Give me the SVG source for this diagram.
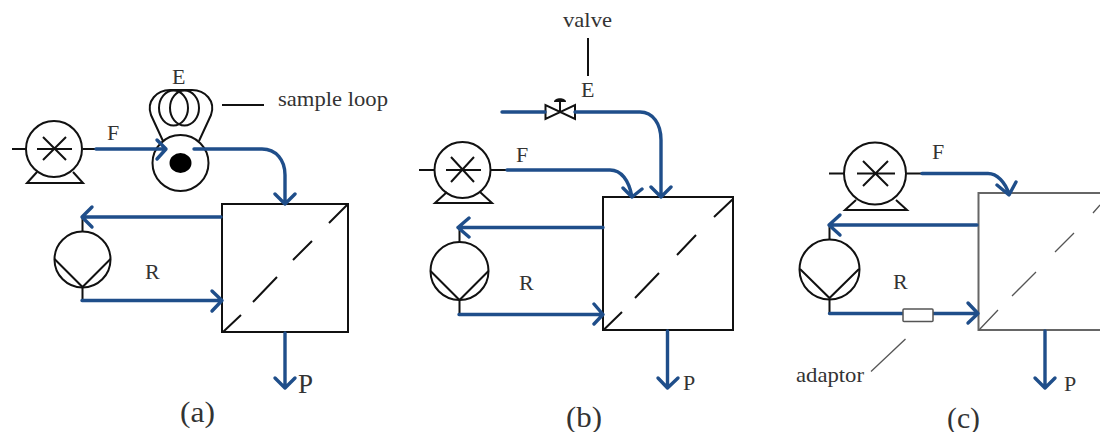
<svg xmlns="http://www.w3.org/2000/svg" width="1100" height="432" viewBox="0 0 1100 432">
<style>
text{font-family:"Liberation Serif","Times New Roman",serif;font-size:22px;fill:#333}
.k{fill:none;stroke:#111;stroke-width:2}
.g{fill:none;stroke:#666;stroke-width:2}
.t{fill:none;stroke:#555;stroke-width:1.3}
.b{fill:none;stroke:#1f4e8a;stroke-width:3.4;stroke-linecap:round;stroke-linejoin:round}
.w{fill:#fff;stroke:#111;stroke-width:2}
.cap{font-size:29px}
</style>
<rect width="1100" height="432" fill="#fff"/>

<g id="pump-feed-a">
<circle class="k" cx="54" cy="149" r="28"/>
<path class="k" d="M12 149H26M37 149H72M43 137L66 160M43 160L66 137M83 149H96M37 172L27 183H83L73 172"/>
</g>
<g id="sample-valve-a">
<circle class="k" cx="180.500" cy="163" r="28"/>
<ellipse cx="180.500" cy="163" rx="11" ry="10" fill="#000"/>
<path class="k" d="M163 141L151 115C146 101 157 90 170 90H192C205 90 216 101 211 115L199 141"/>
<ellipse class="k" cx="173.500" cy="108" rx="14.500" ry="17.500"/>
<ellipse class="k" cx="184.500" cy="108" rx="14.500" ry="17.500"/>
<path class="k" d="M222 105H264"/>
</g>
<g id="module-a">
<rect class="k" x="222" y="204" width="126" height="128"/>
<path class="k" d="M223 332L241 315M253 302L277 277M293 260L312 241M329 223L347 205"/>
</g>
<g id="pump-recirc-a">
<circle class="k" cx="82.500" cy="259.500" r="28"/>
<path class="k" d="M82.500 217V231M54.500 259L82.500 287L110.500 259M82.500 287V300"/>
</g>

<g id="pump-feed-b">
<circle class="k" cx="462.500" cy="170" r="28"/>
<path class="k" d="M419 170H434M446 170H481M451 157L474 182M451 182L474 157M491 170H507M447 192L435 203H492L480 192"/>
</g>
<g id="valve-b">
<path class="w" d="M545.500 105V119L575 105V119Z"/>
<path class="k" d="M560 112V101"/>
<path d="M554 102C554 97 566 97 566 102Z" fill="#111"/>
<path class="k" d="M588 38V76"/>
</g>
<g id="module-b">
<rect class="k" x="603" y="197" width="130" height="133"/>
<path class="k" d="M603.500 330L622 312M635 298L659 273M677 255L696 235M714 217L733 199"/>
</g>
<g id="pump-recirc-b">
<circle class="k" cx="459.500" cy="271" r="29"/>
<path class="k" d="M459.500 228V242M430.500 271L459.500 300L488.500 271M459.500 300V314"/>
</g>

<g id="pump-feed-c">
<circle class="k" cx="875" cy="173.500" r="31"/>
<path class="k" d="M829 173.500H844M857 173.500H895M863 161L888 186M863 186L888 161M907 173.500H922M856 200L845 210H907L896 200"/>
</g>
<g id="module-c">
<path class="g" d="M1100 193H978.500V330H1100"/>
<path class="t" d="M979 330L998 310M1012 296L1036 272M1055 252L1074 233M1093 213L1100 205"/>
</g>
<g id="pump-recirc-c">
<circle class="k" cx="829.500" cy="269.500" r="30"/>
<path class="k" d="M829.500 225V240M800 269L829.500 298L859 269M829.500 298V313"/>
</g>

<g id="connectors">
<path class="b" d="M96 149H166M157 140L166 149L157 159"/>
<path class="b" d="M194 149H262C276 149 285 160 285 175V203M275 194L285 204L295 194"/>
<path class="b" d="M221 217H82M92 207L82 217L92 227"/>
<path class="b" d="M82 300.500H222M212 291L222 300.500L212 311"/>
<path class="b" d="M285 333V388M275 378L285 388L295 378"/>

<path class="b" d="M502 112H545M575 112H640C653 112 661 124 661 140V197M651 187L661 197L671 187"/>
<path class="b" d="M507 170H610C621 170 629 180 632 197M623 188L632 197L642 189"/>
<path class="b" d="M603 227.500H458M469 218L458 227.500L469 237"/>
<path class="b" d="M459 314.500H603M594 304L603 314.500L594 324"/>
<path class="b" d="M667.500 331V388M658 378L667.500 388L678 378"/>

<path class="b" d="M922 173.500H988C997 173.500 1005 182 1009 194M997 185L1009 195L1016 182"/>
<path class="b" d="M977 225H829M840 215L829 225L840 235"/>
<path class="b" d="M829.500 313.500H903M933 313.500H978M968 303L978 313.500L968 323"/>
<path class="b" d="M1045 331V388M1035 378L1045 388L1055 378"/>
</g>
<g id="adaptor-c">
<rect x="903" y="309" width="30" height="12.500" rx="1" fill="#fff" stroke="#555" stroke-width="1.500"/>
<path class="t" d="M905.500 339L871 371.500"/>
</g>

<g id="labels">
<text x="107" y="140">F</text>
<text x="172" y="84">E</text>
<text x="278" y="106" textLength="110" lengthAdjust="spacingAndGlyphs">sample loop</text>
<text x="145" y="279">R</text>
<text x="298" y="393" style="font-size:27px">P</text>
<text class="cap" x="180" y="422" textLength="35" lengthAdjust="spacingAndGlyphs">(a)</text>
<text x="563" y="27" textLength="49" lengthAdjust="spacingAndGlyphs">valve</text>
<text x="581" y="97">E</text>
<text x="516" y="162">F</text>
<text x="519" y="290">R</text>
<text x="683" y="390">P</text>
<text class="cap" x="566" y="427" textLength="36" lengthAdjust="spacingAndGlyphs">(b)</text>
<text x="932" y="159">F</text>
<text x="893" y="289">R</text>
<text x="1064" y="391">P</text>
<text x="796" y="382" textLength="68" lengthAdjust="spacingAndGlyphs">adaptor</text>
<text class="cap" x="947" y="428" textLength="33" lengthAdjust="spacingAndGlyphs">(c)</text>
</g>
</svg>
